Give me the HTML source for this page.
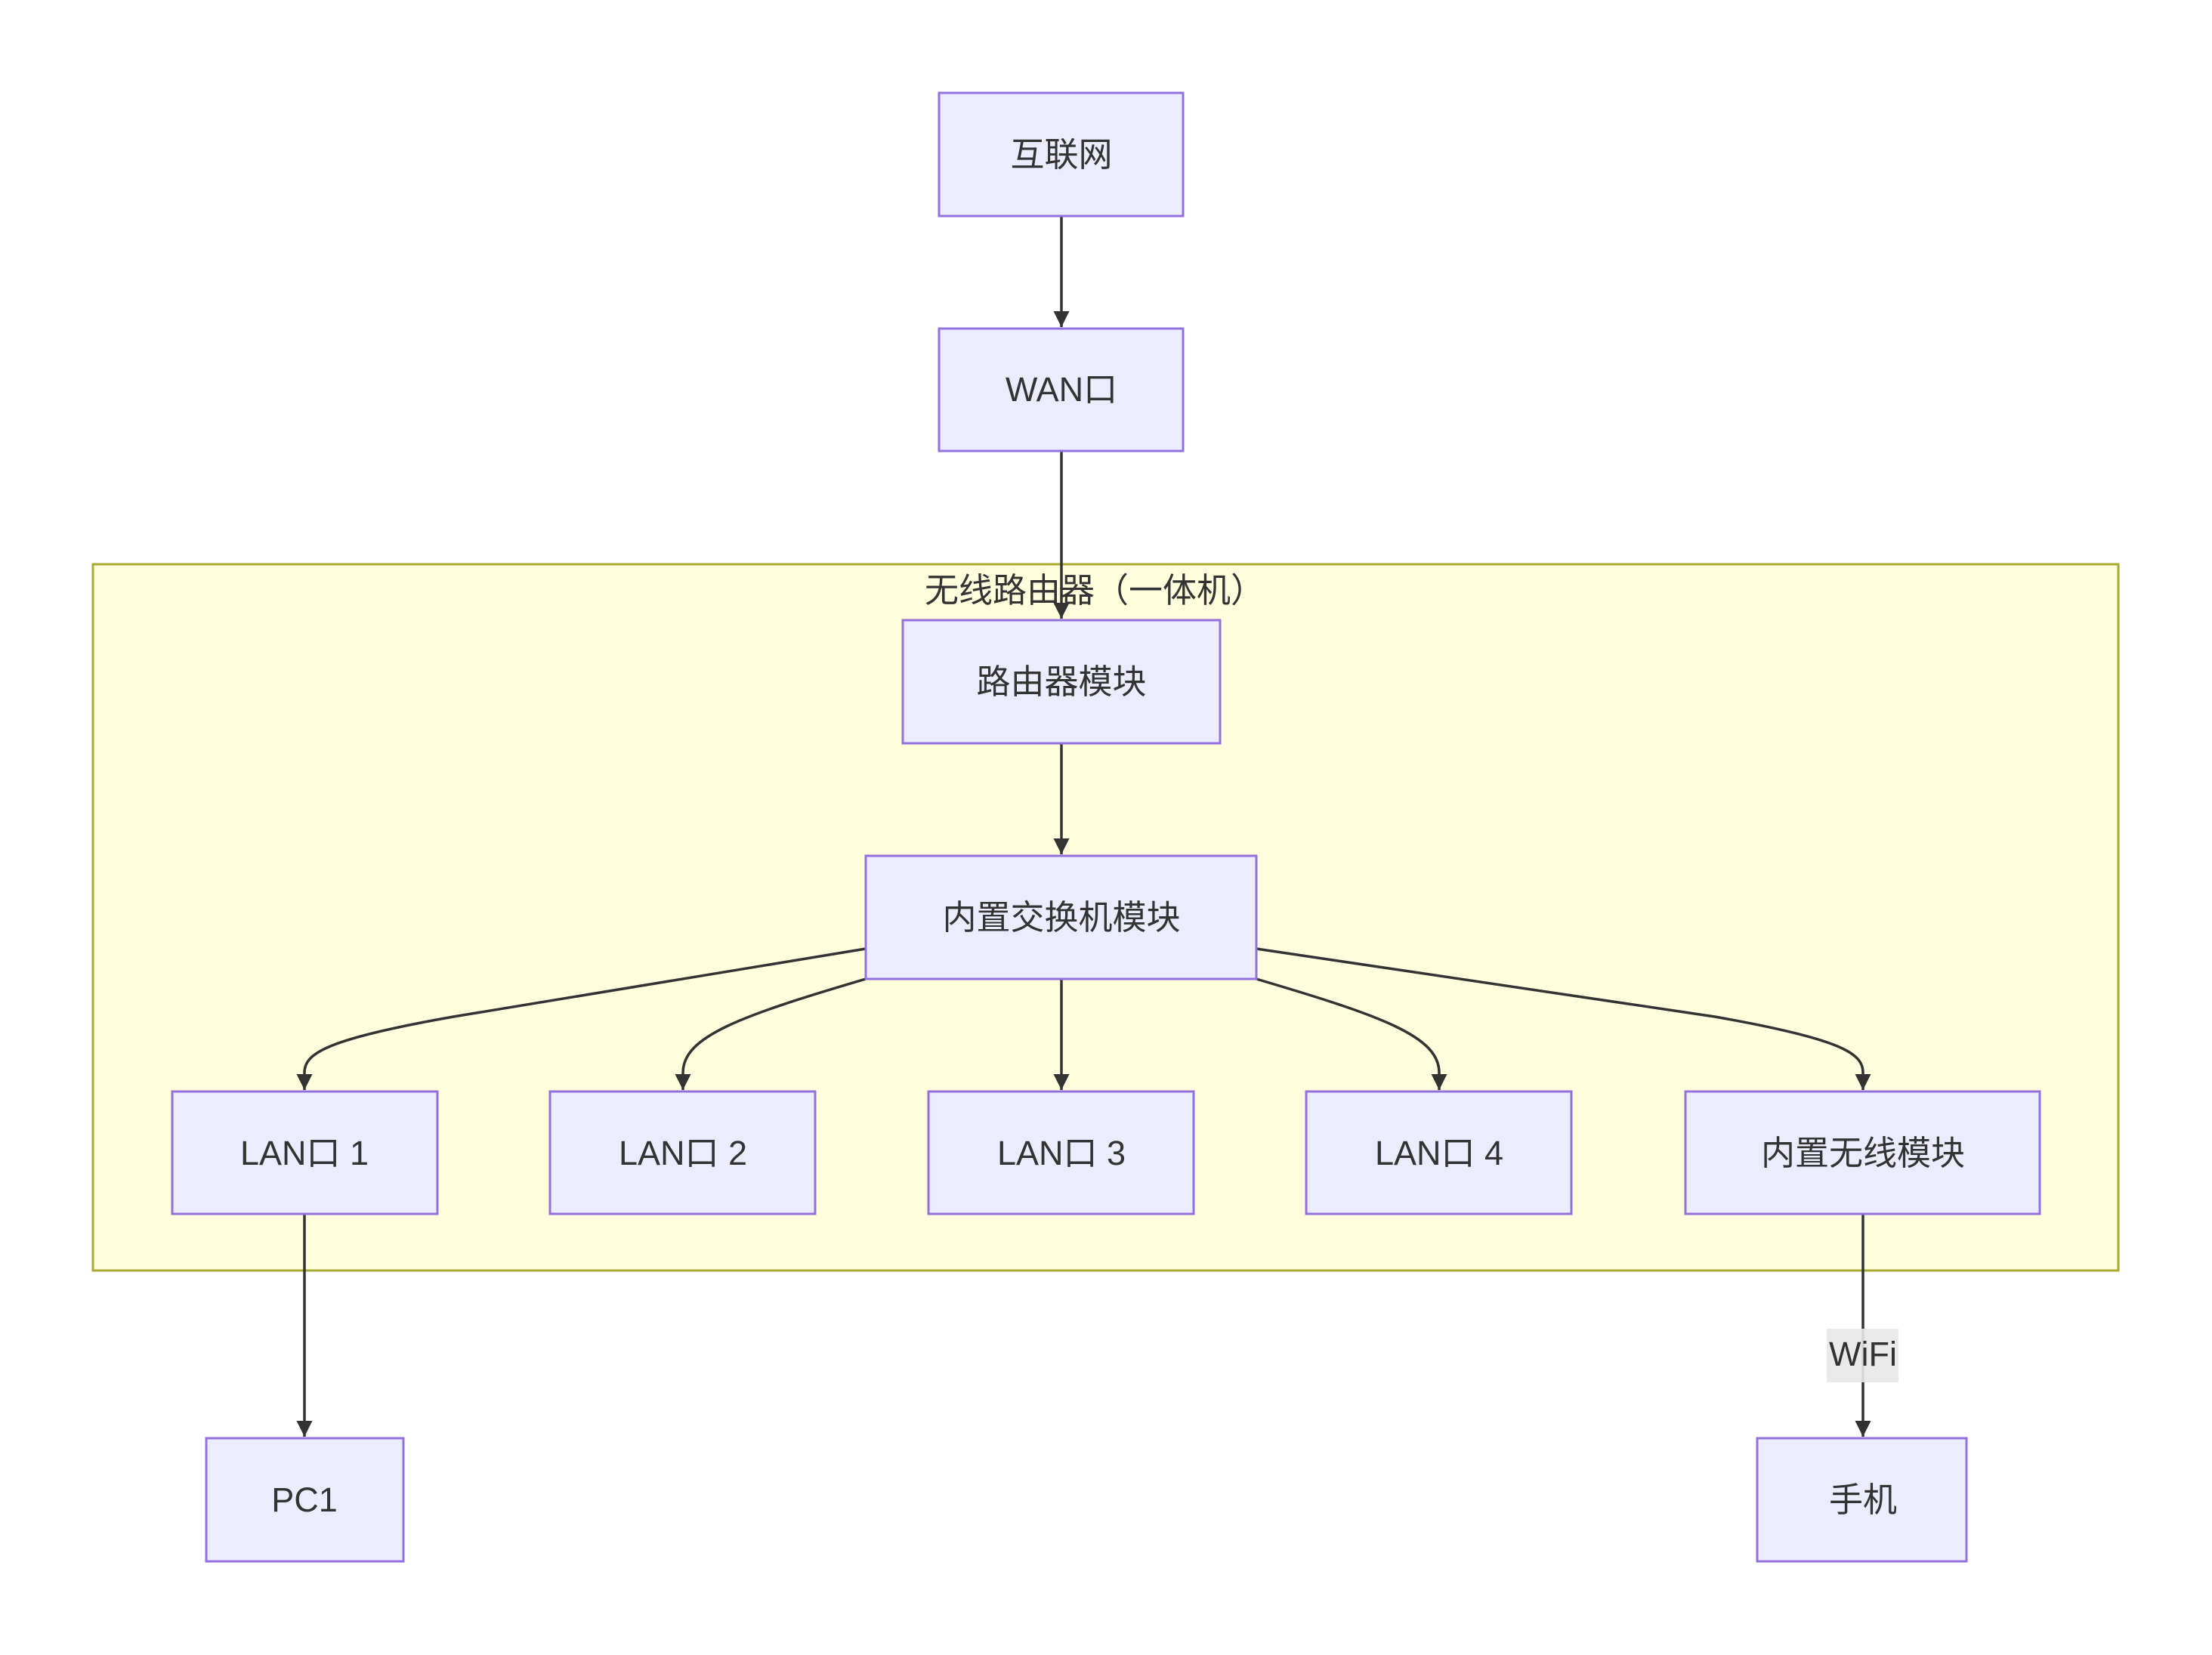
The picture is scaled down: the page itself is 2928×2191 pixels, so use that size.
<!DOCTYPE html>
<html><head><meta charset="utf-8"><style>
html,body{margin:0;padding:0;background:#fff;}
svg{display:block}
text{font-family:"Liberation Sans","Noto Sans CJK SC",sans-serif;fill:#333;}
</style></head><body>
<svg width="2928" height="2191" viewBox="0 0 2928 2191" xmlns="http://www.w3.org/2000/svg">
<defs>
<marker id="a" viewBox="0 0 10 10" refX="10" refY="5" markerWidth="6" markerHeight="6" markerUnits="strokeWidth" orient="auto">
<path d="M0,0 L10,5 L0,10 z" fill="#333"/>
</marker>
</defs>
<rect x="123" y="747" width="2681" height="935" fill="#ffffde" stroke="#aaaa33" stroke-width="3"/>
<text x="1449" y="797" font-size="45" text-anchor="middle">无线路由器（一体机）</text>
<g stroke="#333" stroke-width="3.5" fill="none" marker-end="url(#a)">
<path d="M1405,286 L1405,433"/>
<path d="M1405,597 L1405,819"/>
<path d="M1405,984 L1405,1131"/>
<path d="M1146,1256 L600,1346 C430,1376 403,1395 403,1420 L403,1443"/>
<path d="M1146,1296 C980,1345 904,1372 904,1420 L904,1443"/>
<path d="M1405,1296 L1405,1443"/>
<path d="M1663,1296 C1829,1345 1905,1372 1905,1420 L1905,1443"/>
<path d="M1663,1256 L2270,1346 C2440,1376 2466,1395 2466,1420 L2466,1443"/>
<path d="M403,1607 L403,1902"/>
<path d="M2466,1607 L2466,1902"/>
</g>
<rect x="2418" y="1759" width="95" height="71" fill="#e8e8e8" opacity="0.9"/>
<text x="2466" y="1808" font-size="45" text-anchor="middle">WiFi</text>
<g fill="#ececff" stroke="#9370db" stroke-width="3">
<rect x="1243" y="123" width="323" height="163"/>
<rect x="1243" y="435" width="323" height="162"/>
<rect x="1195" y="821" width="420" height="163"/>
<rect x="1146" y="1133" width="517" height="163"/>
<rect x="228" y="1445" width="351" height="162"/>
<rect x="728" y="1445" width="351" height="162"/>
<rect x="1229" y="1445" width="351" height="162"/>
<rect x="1729" y="1445" width="351" height="162"/>
<rect x="2231" y="1445" width="469" height="162"/>
<rect x="273" y="1904" width="261" height="163"/>
<rect x="2326" y="1904" width="277" height="163"/>
</g>
<g font-size="45" text-anchor="middle">
<text x="1405" y="220">互联网</text>
<text x="1405" y="531">WAN口</text>
<text x="1405" y="918">路由器模块</text>
<text x="1405" y="1230">内置交换机模块</text>
<text x="403" y="1542">LAN口 1</text>
<text x="904" y="1542">LAN口 2</text>
<text x="1405" y="1542">LAN口 3</text>
<text x="1905" y="1542">LAN口 4</text>
<text x="2466" y="1542">内置无线模块</text>
<text x="403" y="2001">PC1</text>
<text x="2466" y="2001">手机</text>
</g>
</svg>
</body></html>
